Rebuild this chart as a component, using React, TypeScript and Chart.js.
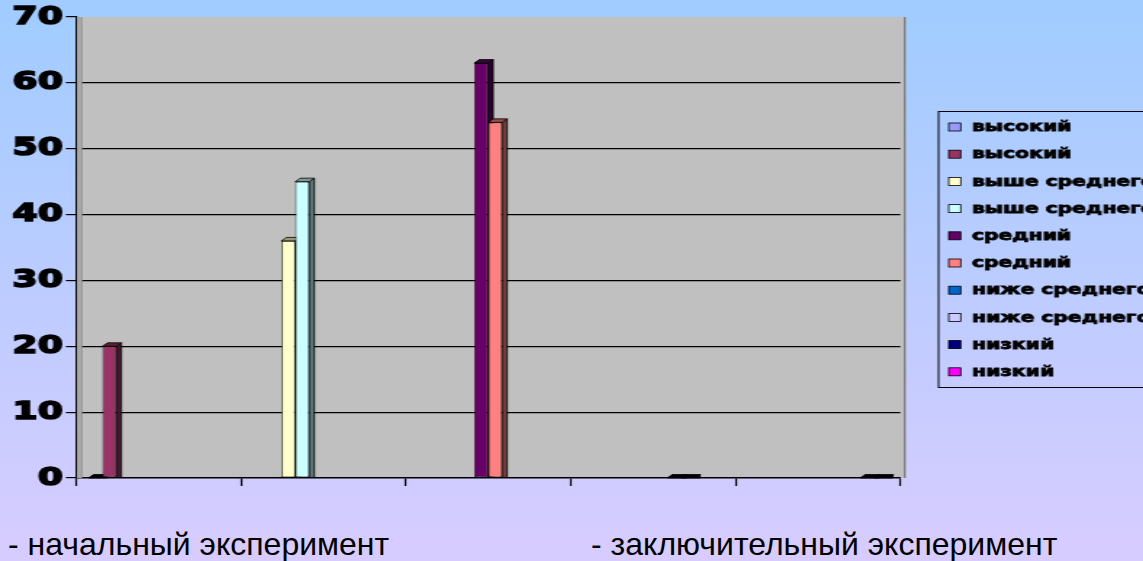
import React, { useEffect, useRef } from 'react';
import { Chart, registerables } from 'chart.js';

Chart.register(...registerables);

// ---------- data ----------
const categories = ['высокий', 'выше среднего', 'средний', 'ниже среднего', 'низкий'];
const seriesLabels = [
  'высокий', 'высокий',
  'выше среднего', 'выше среднего',
  'средний', 'средний',
  'ниже среднего', 'ниже среднего',
  'низкий', 'низкий',
];
const seriesHigh1 = [0, null, null, null, null];
const seriesHigh2 = [20, null, null, null, null];
const seriesAbove1 = [null, 36, null, null, null];
const seriesAbove2 = [null, 45, null, null, null];
const seriesMid1 = [null, null, 63, null, null];
const seriesMid2 = [null, null, 54, null, null];
const seriesBelow1 = [null, null, null, 0, null];
const seriesBelow2 = [null, null, null, 0, null];
const seriesLow1 = [null, null, null, null, 0];
const seriesLow2 = [null, null, null, null, 0];
const seriesValues = [
  seriesHigh1, seriesHigh2, seriesAbove1, seriesAbove2, seriesMid1,
  seriesMid2, seriesBelow1, seriesBelow2, seriesLow1, seriesLow2,
];
const seriesColors = [
  '#9999FF', '#993366', '#FFFFCC', '#CCFFFF', '#660066',
  '#FF8080', '#0066CC', '#CCCCFF', '#000080', '#FF00FF',
];
const yMin = 0;
const yMax = 70;
const yStep = 10;
const footnotes = ['- начальный эксперимент', '- заключительный эксперимент'];

// ---------- layout (canvas is stretched horizontally like the original) ----------
const S = 1.45;
const W = 810;
const H = 495;
const DX = 5 / S;
const DY = 3.5;

function shade(hex: string, f: number): string {
  const n = parseInt(hex.slice(1), 16);
  const r = Math.round(((n >> 16) & 255) * f);
  const g = Math.round(((n >> 8) & 255) * f);
  const b = Math.round((n & 255) * f);
  return `rgb(${r},${g},${b})`;
}

const decor = {
  id: 'decor',
  beforeDraw(chart: any) {
    const { ctx, chartArea: a } = chart;
    ctx.save();
    ctx.fillStyle = '#c0c0c0';
    ctx.fillRect(a.left, a.top, a.right + 3.5 - a.left, a.bottom - a.top);
    ctx.strokeStyle = '#808080';
    ctx.lineWidth = 1.4;
    ctx.beginPath();
    ctx.moveTo(a.right + 3, a.top);
    ctx.lineTo(a.right + 3, a.bottom);
    ctx.stroke();
    ctx.restore();
  },
  beforeDatasetsDraw(chart: any) {
    const { ctx, chartArea: a } = chart;
    ctx.save();
    // left wall
    ctx.fillStyle = '#a9a9a9';
    ctx.fillRect(a.left + 0.7, a.top, 3.3, a.bottom - a.top);
    ctx.strokeStyle = '#8a8a8a';
    ctx.lineWidth = 0.6;
    ctx.beginPath();
    ctx.moveTo(a.left + 4, a.top);
    ctx.lineTo(a.left + 4, a.bottom);
    ctx.stroke();
    // 3D extrusion of bars
    chart.data.datasets.forEach((ds: any, i: number) => {
      const meta = chart.getDatasetMeta(i);
      meta.data.forEach((el: any, j: number) => {
        const v = ds.data[j];
        if (v === null || v === undefined) return;
        const { x, y, base, width } = el.getProps(['x', 'y', 'base', 'width'], true);
        const l = x - width / 2;
        const r = x + width / 2;
        const col = ds.backgroundColor as string;
        ctx.lineWidth = 0.8;
        ctx.strokeStyle = '#000';
        // side
        ctx.fillStyle = v === 0 ? '#000' : shade(col, 0.45);
        ctx.beginPath();
        ctx.moveTo(r, y);
        ctx.lineTo(r + DX, y - DY);
        ctx.lineTo(r + DX, base);
        ctx.lineTo(r, base);
        ctx.closePath();
        ctx.fill();
        ctx.stroke();
        // top
        ctx.fillStyle = v === 0 ? '#000' : shade(col, 0.6);
        ctx.beginPath();
        ctx.moveTo(l, y);
        ctx.lineTo(l + DX, y - DY);
        ctx.lineTo(r + DX, y - DY);
        ctx.lineTo(r, y);
        ctx.closePath();
        ctx.fill();
        ctx.stroke();
      });
    });
    ctx.restore();
  },
  afterDraw(chart: any) {
    const { ctx } = chart;
    ctx.save();
    ctx.strokeStyle = '#000';
    ctx.lineWidth = 1;
    ctx.strokeRect(647, 111.5, 158, 276);
    ctx.font = 'bold 14px "DejaVu Sans"';
    ctx.textBaseline = 'middle';
    ctx.textAlign = 'left';
    chart.data.datasets.forEach((ds: any, i: number) => {
      const cy = 127 + i * 27.2;
      ctx.fillStyle = ds.backgroundColor;
      ctx.fillRect(654, cy - 4, 8.3, 8);
      ctx.lineWidth = 0.8;
      ctx.strokeStyle = '#000';
      ctx.strokeRect(654, cy - 4, 8.3, 8);
      ctx.fillStyle = '#000';
      ctx.lineWidth = 0.8;
      ctx.strokeText(ds.label, 670, cy + 0.5);
      ctx.fillText(ds.label, 670, cy + 0.5);
    });
    ctx.restore();
  },
};

export default function App() {
  const ref = useRef<HTMLCanvasElement | null>(null);

  useEffect(() => {
    document.body.style.margin = '0';
    const canvas = ref.current!;
    const chart = new Chart(canvas, {
      type: 'bar',
      data: {
        labels: categories,
        datasets: seriesValues.map((vals, i) => ({
          label: seriesLabels[i],
          data: vals,
          backgroundColor: seriesColors[i],
          borderColor: '#000',
          borderWidth: 0.8,
          borderSkipped: false,
          categoryPercentage: 0.85,
          barPercentage: 1,
        })),
      },
      options: {
        animation: false,
        responsive: false,
        devicePixelRatio: 1,
        layout: { padding: { top: 17, right: W - 900 / S, left: 0, bottom: 0 } },
        plugins: { legend: { display: false }, tooltip: { enabled: false } },
        scales: {
          x: {
            grid: {
              offset: true,
              drawOnChartArea: false,
              drawTicks: true,
              tickLength: 8,
              tickColor: '#000',
              tickWidth: 1.2,
            },
            border: { color: '#000', width: 1.5 },
            ticks: { display: false },
            afterFit: (scale: any) => {
              scale.height = H - 478;
            },
          },
          y: {
            min: yMin,
            max: yMax,
            ticks: {
              stepSize: yStep,
              color: '#000',
              padding: 2,
              textStrokeColor: '#000',
              textStrokeWidth: 1.6,
              font: { family: '"DejaVu Sans"', weight: 'bold', size: 25 },
            },
            grid: {
              color: (c: any) => (c.tick && (c.tick.value === yMax || c.tick.value === yMin) ? 'rgba(0,0,0,0)' : '#000'),
              lineWidth: 1.2,
              tickLength: 7,
              tickColor: '#000',
              tickWidth: 1.2,
            },
            border: { color: '#000', width: 1.2 },
            afterFit: (scale: any) => {
              scale.width = 76 / S;
            },
          },
        },
      },
      plugins: [decor],
    });
    canvas.style.width = `${W * S}px`;
    canvas.style.height = `${H}px`;
    return () => chart.destroy();
  }, []);

  const textStyle: React.CSSProperties = {
    position: 'absolute',
    top: 528,
    fontFamily: '"Liberation Sans", Arial, sans-serif',
    fontSize: 32,
    lineHeight: '32px',
    color: '#000',
    whiteSpace: 'nowrap',
  };

  return (
    <div
      style={{
        position: 'relative',
        width: 1143,
        height: 561,
        overflow: 'hidden',
        background: 'linear-gradient(180deg, #a0ccff 0%, #d8ccff 100%)',
      }}
    >
      <canvas
        ref={ref}
        width={W}
        height={H}
        style={{ position: 'absolute', left: 0, top: 0, width: W * S, height: H, display: 'block' }}
      />
      <div style={{ ...textStyle, left: 8 }}>{footnotes[0]}</div>
      <div style={{ ...textStyle, left: 591 }}>{footnotes[1]}</div>
    </div>
  );
}
